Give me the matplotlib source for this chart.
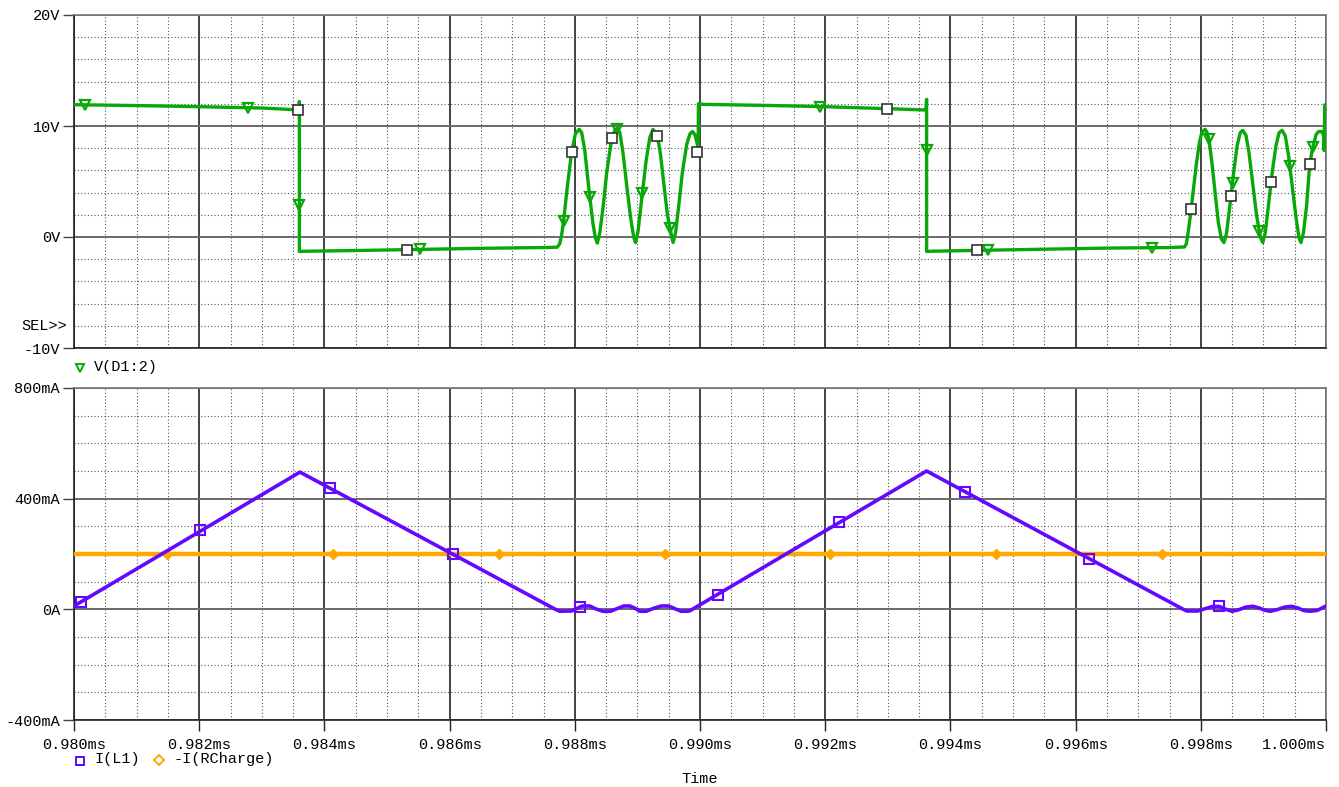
import matplotlib
matplotlib.use('Agg')
import matplotlib.pyplot as plt
from matplotlib.lines import Line2D
from matplotlib.ticker import MultipleLocator, FixedLocator
import matplotlib.transforms as mtransforms

plt.rcParams['font.family'] = ['Liberation Mono', 'DejaVu Sans Mono']
plt.rcParams['font.size'] = 11

# ---- V(D1:2), time in us ----
v_t = [980.00, 981.00, 982.00, 983.00, 983.59, 983.60, 983.60, 983.70, 984.50, 985.50, 986.50, 987.50, 987.72,
       987.76, 987.79, 987.82, 987.88, 987.95, 988.01, 988.07, 988.11, 988.16, 988.20, 988.24, 988.29, 988.33,
       988.36, 988.40, 988.45, 988.51, 988.59, 988.64, 988.68, 988.72, 988.77, 988.83, 988.89, 988.94, 988.97,
       989.01, 989.08, 989.14, 989.20, 989.25, 989.32, 989.37, 989.43, 989.48, 989.52, 989.57, 989.61, 989.66,
       989.72, 989.79, 989.84, 989.88, 989.92, 989.96, 989.97, 989.975, 990.05, 991.00, 992.00, 993.00,
       993.61, 993.62, 993.62, 993.70, 994.50, 995.50, 996.50, 997.50, 997.74,
       997.77, 997.80, 997.84, 997.88, 997.93, 997.98, 998.02, 998.07, 998.10, 998.13, 998.18, 998.23, 998.28,
       998.33, 998.37, 998.41, 998.46, 998.52, 998.58, 998.63, 998.67, 998.72, 998.77, 998.83, 998.89, 998.95,
       998.99, 999.03, 999.08, 999.14, 999.20, 999.25, 999.30, 999.35, 999.40, 999.46, 999.52, 999.57, 999.60,
       999.64, 999.69, 999.74, 999.79, 999.84, 999.88, 999.93, 999.96, 999.97, 999.98, 1000.00]
v_val = [11.92, 11.84, 11.74, 11.62, 11.45, 12.2, -1.3, -1.28, -1.22, -1.12, -1.02, -0.95, -0.92,
         -0.6, 0.2, 1.4, 4.5, 7.7, 9.3, 9.7, 9.4, 7.8, 5.6, 3.6, 1.2, -0.1,
         -0.55, 0.4, 2.6, 5.8, 8.9, 9.6, 9.8, 9.4, 7.6, 4.6, 1.8, 0.0, -0.5,
         0.5, 4.0, 6.9, 9.0, 9.7, 9.1, 7.4, 4.4, 2.0, 0.8, -0.5, 0.4, 2.8,
         5.9, 8.4, 9.3, 9.5, 9.2, 8.3, 7.9, 12.0, 11.95, 11.86, 11.74, 11.56,
         11.44, 12.4, -1.3, -1.28, -1.2, -1.1, -1.0, -0.95, -0.9,
         -0.6, 0.5, 2.2, 4.2, 6.6, 8.6, 9.5, 9.7, 9.4, 8.8, 6.6, 3.9, 1.3,
         -0.2, -0.5, 0.3, 2.6, 5.6, 8.2, 9.4, 9.6, 9.2, 7.6, 4.8, 2.0, 0.0,
         -0.5, 0.4, 2.8, 5.8, 8.2, 9.4, 9.6, 9.1, 7.4, 4.6, 1.8, -0.1, -0.5,
         0.4, 2.8, 6.6, 8.1, 9.2, 9.5, 9.5, 9.2, 7.8, 11.9, 11.9]

v_tri_t = [980.18, 982.78, 983.60, 985.53, 987.82, 988.24, 988.67, 989.08, 989.52, 991.92, 993.62,
           994.60, 997.22, 998.13, 998.51, 998.93, 999.42, 999.79]
v_tri_v = [11.89, 11.66, 2.9, -1.12, 1.4, 3.6, 9.7, 4.0, 0.8, 11.74, 7.8,
           -1.18, -0.96, 8.8, 4.9, 0.5, 6.4, 8.1]

v_sq_t = [983.58, 985.32, 987.95, 988.59, 989.32, 989.96, 992.99, 994.42, 997.85, 998.48, 999.12, 999.74]
v_sq_v = [11.45, -1.14, 7.7, 8.9, 9.1, 7.7, 11.54, -1.2, 2.5, 3.7, 5.0, 6.6]

# ---- I(L1) in mA ----
i_t = [980.00, 983.61, 987.69, 987.76, 987.95, 988.05, 988.12, 988.24, 988.33, 988.45, 988.57, 988.68,
       988.78, 988.88, 988.97, 989.04, 989.14, 989.25, 989.38, 989.50, 989.60, 989.70, 989.80, 989.84,
       993.62, 997.72, 997.78, 997.95, 998.08, 998.20, 998.30, 998.40, 998.50, 998.60, 998.72, 998.83,
       998.93, 999.02, 999.11, 999.22, 999.34, 999.45, 999.55, 999.64, 999.74, 999.86, 1000.00]
i_val = [12, 496, 0, -7, -6, 5, 12, 12, 2, -7, -7, 3,
         12, 12, 3, -7, -7, 3, 12, 12, 2, -7, -7, -5,
         500, 0, -6, -6, 3, 11, 10, 0, -7, -2, 8, 11,
         5, -3, -7, -1, 8, 11, 5, -4, -7, -4, 12]

i_sq_t = [980.11, 982.01, 984.09, 986.05, 988.09, 990.29, 992.22, 994.23, 996.22, 998.29]
i_sq_v = [28, 287, 440, 200, 7, 51, 314, 423, 182, 11]

# ---- -I(RCharge) in mA ----
r_t = [980.0, 1000.0]
r_val = [200, 200]
r_dm_t = [981.49, 984.14, 986.79, 989.44, 992.08, 994.73, 997.38]
r_dm_v = [200, 200, 200, 200, 200, 200, 200]

x_ticks = [980, 982, 984, 986, 988, 990, 992, 994, 996, 998, 1000]
v_ticks = [-10, 0, 10, 20]
v_labels = ['-10V', '0V', '10V', '20V']
i_ticks = [-400, 0, 400, 800]
i_labels = ['-400mA', '0A', '400mA', '800mA']

GREEN = '#08a808'
PURPLE = '#6408ff'
ORANGE = '#ffa800'

W, H = 1339, 787
fig = plt.figure(figsize=(W / 100, H / 100), dpi=100)
ax1 = fig.add_axes([74 / W, 1 - 348 / H, 1252 / W, 333 / H])
ax2 = fig.add_axes([74 / W, 1 - 720 / H, 1252 / W, 332 / H])


def style_axes(ax, yticks, ylabels, ymin, ymax, ymin_step):
    ax.set_xlim(980, 1000)
    ax.set_ylim(ymin, ymax)
    ax.xaxis.set_major_locator(FixedLocator(x_ticks))
    ax.xaxis.set_minor_locator(MultipleLocator(0.5))
    ax.yaxis.set_major_locator(FixedLocator(yticks))
    ax.yaxis.set_minor_locator(MultipleLocator(ymin_step))
    ax.set_yticklabels(ylabels)
    ax.grid(which='minor', color='#555555', linestyle=(0, (1, 2)), linewidth=0.8)
    ax.grid(which='major', axis='x', color='#222222', linestyle='-', linewidth=1.2)
    ax.grid(which='major', axis='y', color='#6a6a6a', linestyle='-', linewidth=1.4)
    ax.set_axisbelow(True)
    ax.tick_params(axis='y', which='major', length=8, width=1, pad=2, color='#444444')
    ax.tick_params(axis='y', which='minor', length=0)
    ax.tick_params(axis='x', which='minor', length=0)
    for s in ['top', 'right']:
        ax.spines[s].set_color('#777777')
        ax.spines[s].set_linewidth(1.2)
    for s in ['left', 'bottom']:
        ax.spines[s].set_color('#222222')
        ax.spines[s].set_linewidth(1.2)


style_axes(ax1, v_ticks, v_labels, -10, 20, 2)
style_axes(ax2, i_ticks, i_labels, -400, 800, 100)

ax1.tick_params(axis='x', which='major', length=0, labelbottom=False)
ax2.set_xticklabels([f'{t / 1000:.3f}ms' for t in x_ticks])
ax2.tick_params(axis='x', which='major', length=8, width=1, pad=5, color='#222222')
# last label sits flush with the right edge
ax2.get_xticklabels()[-1].set_horizontalalignment('right')

# traces
ax1.plot(v_t, v_val, color=GREEN, lw=2.4, solid_joinstyle='round', zorder=3)
ax1.plot(v_tri_t, v_tri_v, ls='none', marker='v', ms=7, mfc='none', mec=GREEN, mew=1.6, zorder=4)
ax1.plot(v_sq_t, v_sq_v, ls='none', marker='s', ms=7, mfc='white', mec='#333333', mew=1.2, zorder=5)

ax2.plot(r_t, r_val, color=ORANGE, lw=3.2, zorder=3)
ax2.plot(r_dm_t, r_dm_v, ls='none', marker='D', ms=5, mfc=ORANGE, mec=ORANGE, zorder=4)
ax2.plot(i_t, i_val, color=PURPLE, lw=2.6, solid_joinstyle='round', zorder=5)
ax2.plot(i_sq_t, i_sq_v, ls='none', marker='s', ms=6.5, mfc='none', mec=PURPLE, mew=1.5, zorder=6)

# SEL>> marker
trans = mtransforms.blended_transform_factory(ax1.transAxes, ax1.transData)
ax1.text(-0.0056, -8, 'SEL>>', transform=trans, ha='right', va='center', fontsize=11)

# legends
fig.add_artist(Line2D([80 / W], [1 - 368 / H], marker='v', ms=6, mfc='none', mec=GREEN, mew=1.4, ls='none'))
fig.text(94 / W, 1 - 367 / H, 'V(D1:2)', ha='left', va='center', fontsize=11)
fig.add_artist(Line2D([80 / W], [1 - 761 / H], marker='s', ms=6, mfc='none', mec=PURPLE, mew=1.4, ls='none'))
fig.text(94 / W, 1 - 759 / H, 'I(L1)', ha='left', va='center', fontsize=11)
fig.add_artist(Line2D([159 / W], [1 - 760 / H], marker='D', ms=5, mfc='none', mec=ORANGE, mew=1.4, ls='none'))
fig.text(173 / W, 1 - 759 / H, '-I(RCharge)', ha='left', va='center', fontsize=11)
fig.text(700 / W, 1 - 779 / H, 'Time', ha='center', va='center', fontsize=11)

fig.savefig('out.png', dpi=100)
